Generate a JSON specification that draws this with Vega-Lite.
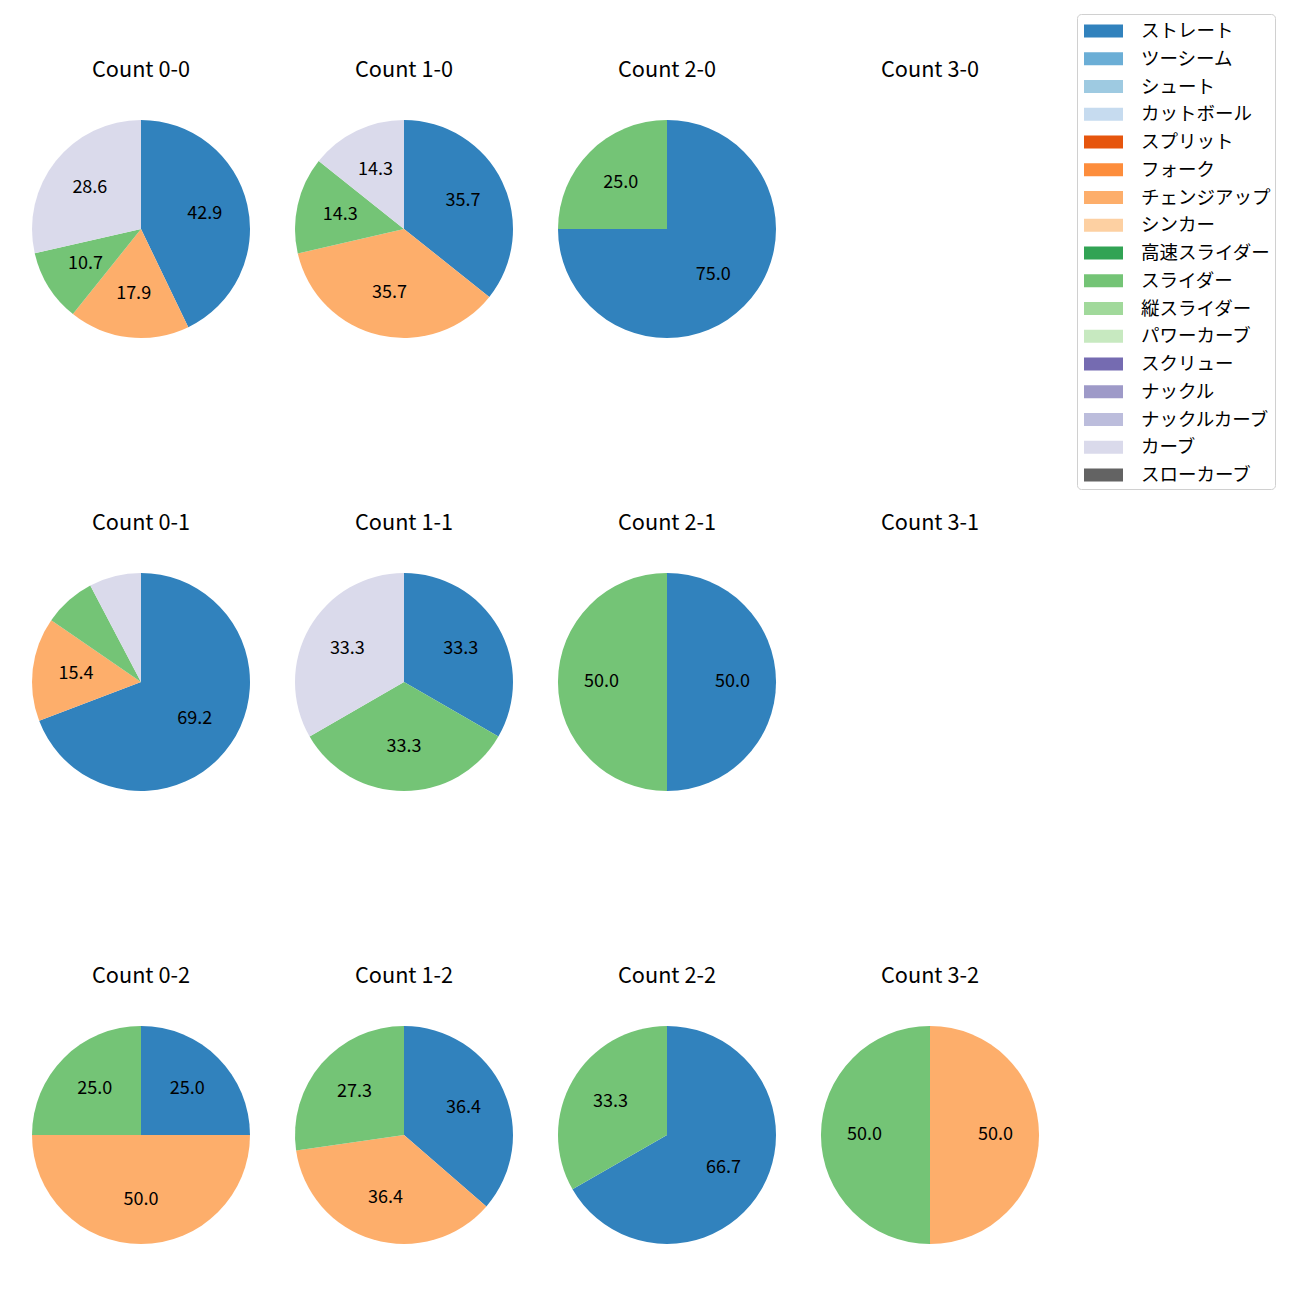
{
  "$schema": "https://vega.github.io/schema/vega-lite/v6.json",
  "padding": {"left": 32, "top": 13, "right": 5, "bottom": 5},
  "background": "white",
  "data": {"values": [
    {"cell": "Count 0-0", "pitch": "ストレート", "n": 1, "pct": 42.9},
    {"cell": "Count 0-0", "pitch": "チェンジアップ", "n": 7, "pct": 17.9},
    {"cell": "Count 0-0", "pitch": "スライダー", "n": 10, "pct": 10.7},
    {"cell": "Count 0-0", "pitch": "カーブ", "n": 16, "pct": 28.6},
    {"cell": "Count 1-0", "pitch": "ストレート", "n": 1, "pct": 35.7},
    {"cell": "Count 1-0", "pitch": "チェンジアップ", "n": 7, "pct": 35.7},
    {"cell": "Count 1-0", "pitch": "スライダー", "n": 10, "pct": 14.3},
    {"cell": "Count 1-0", "pitch": "カーブ", "n": 16, "pct": 14.3},
    {"cell": "Count 2-0", "pitch": "ストレート", "n": 1, "pct": 75.0},
    {"cell": "Count 2-0", "pitch": "スライダー", "n": 10, "pct": 25.0},
    {"cell": "Count 3-0", "pitch": "ストレート", "n": 1, "pct": 0},
    {"cell": "Count 0-1", "pitch": "ストレート", "n": 1, "pct": 69.2},
    {"cell": "Count 0-1", "pitch": "チェンジアップ", "n": 7, "pct": 15.4},
    {"cell": "Count 0-1", "pitch": "スライダー", "n": 10, "pct": 7.7},
    {"cell": "Count 0-1", "pitch": "カーブ", "n": 16, "pct": 7.7},
    {"cell": "Count 1-1", "pitch": "ストレート", "n": 1, "pct": 33.3},
    {"cell": "Count 1-1", "pitch": "スライダー", "n": 10, "pct": 33.3},
    {"cell": "Count 1-1", "pitch": "カーブ", "n": 16, "pct": 33.3},
    {"cell": "Count 2-1", "pitch": "ストレート", "n": 1, "pct": 50.0},
    {"cell": "Count 2-1", "pitch": "スライダー", "n": 10, "pct": 50.0},
    {"cell": "Count 3-1", "pitch": "ストレート", "n": 1, "pct": 0},
    {"cell": "Count 0-2", "pitch": "ストレート", "n": 1, "pct": 25.0},
    {"cell": "Count 0-2", "pitch": "チェンジアップ", "n": 7, "pct": 50.0},
    {"cell": "Count 0-2", "pitch": "スライダー", "n": 10, "pct": 25.0},
    {"cell": "Count 1-2", "pitch": "ストレート", "n": 1, "pct": 36.4},
    {"cell": "Count 1-2", "pitch": "チェンジアップ", "n": 7, "pct": 36.4},
    {"cell": "Count 1-2", "pitch": "スライダー", "n": 10, "pct": 27.3},
    {"cell": "Count 2-2", "pitch": "ストレート", "n": 1, "pct": 66.7},
    {"cell": "Count 2-2", "pitch": "スライダー", "n": 10, "pct": 33.3},
    {"cell": "Count 3-2", "pitch": "チェンジアップ", "n": 7, "pct": 50.0},
    {"cell": "Count 3-2", "pitch": "スライダー", "n": 10, "pct": 50.0}
  ]},
  "facet": {
    "field": "cell",
    "type": "nominal",
    "sort": ["Count 0-0", "Count 1-0", "Count 2-0", "Count 3-0", "Count 0-1", "Count 1-1", "Count 2-1", "Count 3-1", "Count 0-2", "Count 1-2", "Count 2-2", "Count 3-2"],
    "header": {"title": null, "labelFontSize": 21.7, "labelFont": "Noto Sans CJK JP", "labelColor": "black", "labelBaseline": "middle", "labelPadding": 28}
  },
  "columns": 4,
  "spacing": {"row": 175, "column": 45},
  "resolve": {"scale": {"theta": "independent"}},
  "spec": {
    "width": 218,
    "height": 218,
    "view": {"stroke": null},
    "layer": [
      {
        "mark": {"type": "arc"},
        "encoding": {
          "theta": {"field": "pct", "type": "quantitative", "stack": true},
          "order": {"field": "n", "type": "quantitative", "sort": "ascending"},
          "color": {
            "field": "pitch", "type": "nominal",
            "scale": {
              "domain": ["ストレート", "ツーシーム", "シュート", "カットボール", "スプリット", "フォーク", "チェンジアップ", "シンカー", "高速スライダー", "スライダー", "縦スライダー", "パワーカーブ", "スクリュー", "ナックル", "ナックルカーブ", "カーブ", "スローカーブ"],
              "range": ["#3182bd", "#6baed6", "#9ecae1", "#c6dbef", "#e6550d", "#fd8d3c", "#fdae6b", "#fdd0a2", "#31a354", "#74c476", "#a1d99b", "#c7e9c0", "#756bb1", "#9e9ac8", "#bcbddc", "#dadaeb", "#636363"]
            },
            "legend": {"title": null, "orient": "none", "legendX": 1045, "legendY": -106}
          }
        }
      },
      {
        "mark": {"type": "text", "radius": 65.4, "fontSize": 18, "font": "Noto Sans CJK JP", "color": "black"},
        "encoding": {
          "theta": {"field": "pct", "type": "quantitative", "stack": true},
          "order": {"field": "n", "type": "quantitative", "sort": "ascending"},
          "detail": {"field": "pitch", "type": "nominal"},
          "text": {
            "condition": {"test": "datum.pct < 10", "value": ""},
            "field": "pct", "type": "quantitative", "format": ".1f"
          }
        }
      }
    ]
  },
  "config": {
    "legend": {
      "labelFont": "Noto Sans CJK JP",
      "labelFontSize": 18.5,
      "labelColor": "black",
      "symbolType": "M-1.5,-0.5H1.5V0.5H-1.5Z",
      "symbolSize": 676,
      "symbolStrokeWidth": 0,
      "symbolOpacity": 1,
      "symbolOffset": 9.5,
      "rowPadding": 4.75,
      "labelOffset": 24.4,
      "padding": 4,
      "strokeColor": "#d0d0d0",
      "fillColor": "white",
      "cornerRadius": 4,
      "labelLimit": 300
    }
  }
}
